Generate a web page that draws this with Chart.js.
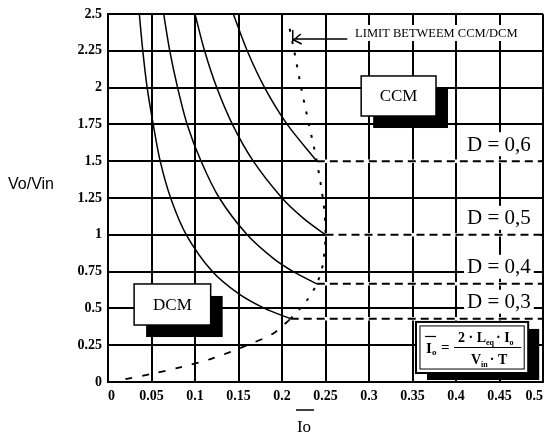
<!DOCTYPE html>
<html>
<head>
<meta charset="utf-8">
<script src="https://cdn.jsdelivr.net/npm/chart.js@4.4.1/dist/chart.umd.min.js"></script>
<style>
  html, body { margin: 0; padding: 0; background: #fff; }
  #wrap { width: 547px; height: 436px; position: relative; }
</style>
</head>
<body>
<div id="wrap"><canvas id="c"></canvas></div>
<script>
// Axis tick labels
const xTickLabels = ['0', '0.05', '0.1', '0.15', '0.2', '0.25', '0.3', '0.35', '0.4', '0.45', '0.5'];
const yTickLabels = ['0', '0.25', '0.5', '0.75', '1', '1.25', '1.5', '1.75', '2', '2.25', '2.5'];

// Duty-cycle labels (D = 0,3 ... 0,6)
const dutyLabels = ['D = 0,3', 'D = 0,4', 'D = 0,5', 'D = 0,6'];

// DCM curves: normalised output current vs. voltage gain
const io_D03 = [0.036, 0.040, 0.045, 0.052, 0.060, 0.072, 0.090, 0.120, 0.150, 0.180, 0.210];
const vo_D03 = [2.5, 2.25, 2.0, 1.75, 1.5, 1.25, 1.0, 0.75, 0.6, 0.5, 0.43];
const io_D04 = [0.064, 0.071, 0.080, 0.091, 0.107, 0.128, 0.160, 0.190, 0.213, 0.240];
const vo_D04 = [2.5, 2.25, 2.0, 1.75, 1.5, 1.25, 1.0, 0.84, 0.75, 0.667];
const io_D05 = [0.100, 0.111, 0.125, 0.143, 0.167, 0.200, 0.225, 0.250];
const vo_D05 = [2.5, 2.25, 2.0, 1.75, 1.5, 1.25, 1.11, 1.0];
const io_D06 = [0.144, 0.160, 0.180, 0.206, 0.240];
const vo_D06 = [2.5, 2.25, 2.0, 1.75, 1.5];

// CCM gain for each duty cycle and the current where CCM begins
const ccmGain  = [0.43, 0.667, 1.0, 1.5];
const ccmStart = [0.21, 0.24, 0.25, 0.24];
const ccmEnd   = 0.5;

// CCM/DCM boundary: lower (dashed) and upper (dotted) parts
const limIoLow  = [0.02, 0.05, 0.083, 0.12, 0.16, 0.19, 0.21];
const limVoLow  = [0.02, 0.055, 0.10, 0.16, 0.25, 0.33, 0.43];
const limIoHigh = [0.21, 0.228, 0.24, 0.247, 0.25, 0.248, 0.24, 0.231, 0.222, 0.214, 0.207];
const limVoHigh = [0.43, 0.55, 0.667, 0.8, 1.0, 1.2, 1.5, 1.75, 2.0, 2.25, 2.45];

const pts = (xs, ys) => xs.map((v, i) => ({ x: v, y: ys[i] }));

const solid = (data) => ({
  data, borderColor: '#000', borderWidth: 1.5, pointRadius: 0, tension: 0.3, fill: false, order: 0
});

const datasets = [
  solid(pts(io_D03, vo_D03)),
  solid(pts(io_D04, vo_D04)),
  solid(pts(io_D05, vo_D05)),
  solid(pts(io_D06, vo_D06)),
  // white backing so the dashed CCM lines break the grid lines they sit on
  ...ccmGain.map((g, i) => ({
    data: [{ x: ccmStart[i], y: g }, { x: ccmEnd - 0.003, y: g }],
    borderColor: '#fff', borderWidth: 3.5, pointRadius: 0, fill: false, order: 2
  })),
  ...ccmGain.map((g, i) => ({
    data: [{ x: ccmStart[i], y: g }, { x: ccmEnd, y: g }],
    borderColor: '#000', borderWidth: 2, borderDash: [8, 5], pointRadius: 0, fill: false, order: 1
  })),
  {
    data: pts(limIoLow, limVoLow),
    borderColor: '#000', borderWidth: 1.8, borderDash: [7, 10], pointRadius: 0, tension: 0.3, fill: false, order: 0
  },
  {
    data: pts(limIoHigh, limVoHigh),
    borderColor: '#000', borderWidth: 2, borderDash: [3, 9], pointRadius: 0, tension: 0.3, fill: false, order: 0
  }
];

const serif = '"Liberation Serif", "Times New Roman", serif';

// Text boxes, labels and axis titles drawn over the plot
const notes = {
  id: 'notes',
  afterDatasetsDraw(chart) {
    const { ctx } = chart;
    const xs = chart.scales.x, ys = chart.scales.y;
    const px = v => xs.getPixelForValue(v);
    const py = v => ys.getPixelForValue(v);
    ctx.save();

    function shadowBox(x0, y0, x1, y1, dx, dy) {
      ctx.fillStyle = '#000';
      ctx.fillRect(x0 + dx, y0 + dy, x1 - x0, y1 - y0);
      ctx.fillStyle = '#fff';
      ctx.fillRect(x0, y0, x1 - x0, y1 - y0);
      ctx.strokeStyle = '#000';
      ctx.lineWidth = 1.5;
      ctx.strokeRect(x0, y0, x1 - x0, y1 - y0);
    }

    // CCM box
    let x0 = px(0.291), x1 = px(0.377), y0 = py(2.079), y1 = py(1.807);
    shadowBox(x0, y0, x1, y1, 12, 12);
    ctx.fillStyle = '#000';
    ctx.font = '17px ' + serif;
    ctx.textAlign = 'center';
    ctx.textBaseline = 'middle';
    ctx.fillText('CCM', (x0 + x1) / 2, (y0 + y1) / 2 + 1);

    // DCM box
    x0 = px(0.030); x1 = px(0.118); y0 = py(0.666); y1 = py(0.387);
    shadowBox(x0, y0, x1, y1, 12, 12);
    ctx.fillStyle = '#000';
    ctx.fillText('DCM', (x0 + x1) / 2, (y0 + y1) / 2 + 1);

    // Duty-cycle labels above the CCM lines
    ctx.font = '21px ' + serif;
    ctx.textAlign = 'right';
    dutyLabels.forEach((t, i) => {
      const xr = px(0.486), yc = py(ccmGain[i]) - 17;
      const w = ctx.measureText(t).width;
      ctx.fillStyle = '#fff';
      ctx.fillRect(xr - w - 3, yc - 12, w + 6, 24);
      ctx.fillStyle = '#000';
      ctx.fillText(t, xr, yc + 1);
    });

    // Boundary label with arrow
    ctx.font = '12.5px ' + serif;
    ctx.textAlign = 'left';
    const lt = 'LIMIT BETWEEM CCM/DCM';
    const lx = px(0.284), ly = py(2.371);
    const lw = ctx.measureText(lt).width;
    ctx.fillStyle = '#fff';
    ctx.fillRect(lx - 2, ly - 8, lw + 4, 16);
    ctx.fillStyle = '#000';
    ctx.fillText(lt, lx, ly + 1);
    const ax0 = px(0.275), ax1 = px(0.2135), ay = py(2.33);
    ctx.strokeStyle = '#000';
    ctx.lineWidth = 1.5;
    ctx.beginPath();
    ctx.moveTo(ax0, ay); ctx.lineTo(ax1, ay);
    ctx.moveTo(ax1 + 7, ay - 5); ctx.lineTo(ax1, ay + 1); ctx.lineTo(ax1 + 8, ay + 5);
    ctx.moveTo(ax1 - 1, ay - 9); ctx.lineTo(ax1 - 1, ay + 2);
    ctx.stroke();

    // Normalised current definition box
    x0 = px(0.354); x1 = px(0.483); y0 = py(0.408); y1 = py(0.061);
    ctx.fillStyle = '#000';
    ctx.fillRect(x0 + 11, y0 + 7, x1 - x0, y1 - y0);
    ctx.fillStyle = '#fff';
    ctx.fillRect(x0, y0, x1 - x0, y1 - y0);
    ctx.strokeStyle = '#000';
    ctx.lineWidth = 2;
    ctx.strokeRect(x0, y0, x1 - x0, y1 - y0);
    ctx.lineWidth = 1;
    ctx.strokeRect(x0 + 4, y0 + 4, x1 - x0 - 8, y1 - y0 - 8);

    const ym = (y0 + y1) / 2;
    ctx.fillStyle = '#000';
    ctx.textAlign = 'left';
    ctx.textBaseline = 'alphabetic';
    // left side: I-bar with subscript o
    ctx.font = 'bold 15px ' + serif;
    ctx.fillText('I', x0 + 10, ym + 6);
    ctx.font = 'bold 9px ' + serif;
    ctx.fillText('o', x0 + 16, ym + 8);
    ctx.lineWidth = 1.2;
    ctx.beginPath(); ctx.moveTo(x0 + 9, ym - 11); ctx.lineTo(x0 + 20, ym - 11); ctx.stroke();
    ctx.font = 'bold 15px ' + serif;
    ctx.fillText('=', x0 + 25, ym + 5);
    // fraction bar
    ctx.beginPath(); ctx.moveTo(x0 + 38, ym); ctx.lineTo(x1 - 7, ym); ctx.stroke();
    // numerator: 2 · L_eq · I_o
    let cx = x0 + 42;
    const nb = ym - 5;
    ctx.font = 'bold 14px ' + serif;
    ctx.fillText('2 \u00b7 L', cx, nb); cx += ctx.measureText('2 \u00b7 L').width;
    ctx.font = 'bold 8px ' + serif;
    ctx.fillText('eq', cx, nb + 3); cx += ctx.measureText('eq').width + 2;
    ctx.font = 'bold 14px ' + serif;
    ctx.fillText('\u00b7 I', cx, nb); cx += ctx.measureText('\u00b7 I').width;
    ctx.font = 'bold 8px ' + serif;
    ctx.fillText('o', cx, nb + 3);
    // denominator: V_in · T
    cx = x0 + 55;
    const db = ym + 17;
    ctx.font = 'bold 14px ' + serif;
    ctx.fillText('V', cx, db); cx += ctx.measureText('V').width;
    ctx.font = 'bold 8px ' + serif;
    ctx.fillText('in', cx, db + 3); cx += ctx.measureText('in').width + 2;
    ctx.font = 'bold 14px ' + serif;
    ctx.fillText('\u00b7 T', cx, db);

    ctx.restore();
  },
  afterDraw(chart) {
    const { ctx } = chart;
    ctx.save();
    ctx.fillStyle = '#000';
    // y-axis title, horizontal at the left
    ctx.font = '16px "Liberation Sans", Arial, sans-serif';
    ctx.textAlign = 'left';
    ctx.textBaseline = 'middle';
    ctx.fillText('Vo/Vin', 8, 185);
    // x-axis title with overline
    ctx.font = '17px ' + serif;
    ctx.textAlign = 'center';
    ctx.fillText('Io', 304, 428);
    ctx.strokeStyle = '#000';
    ctx.lineWidth = 1.5;
    ctx.beginPath(); ctx.moveTo(296, 410); ctx.lineTo(314, 410); ctx.stroke();
    ctx.restore();
  }
};

const tickFont = { family: serif, size: 14, weight: 'bold' };

new Chart(document.getElementById('c'), {
  type: 'line',
  data: { datasets },
  options: {
    responsive: true,
    maintainAspectRatio: false,
    animation: false,
    events: [],
    layout: { padding: { left: 0, top: 14, right: 4, bottom: 0 } },
    plugins: { legend: { display: false }, tooltip: { enabled: false }, title: { display: false } },
    scales: {
      x: {
        type: 'linear', min: 0, max: 0.5,
        ticks: {
          stepSize: 0.05, autoSkip: false, maxRotation: 0, align: 'inner', padding: 6,
          color: '#000', font: tickFont,
          callback: (v, i) => xTickLabels[i]
        },
        grid: { color: '#000', lineWidth: 2, drawTicks: false },
        border: { color: '#000', width: 2 },
        afterFit(s) { s.height = 54; s.paddingLeft = 0; s.paddingRight = 0; }
      },
      y: {
        type: 'linear', min: 0, max: 2.5,
        ticks: {
          stepSize: 0.25, autoSkip: false, padding: 6,
          color: '#000', font: tickFont,
          callback: (v, i) => yTickLabels[i]
        },
        grid: { color: '#000', lineWidth: 2, drawTicks: false },
        border: { color: '#000', width: 2 },
        afterFit(s) { s.width = 108; s.paddingTop = 0; s.paddingBottom = 0; }
      }
    }
  },
  plugins: [notes]
});
</script>
</body>
</html>
